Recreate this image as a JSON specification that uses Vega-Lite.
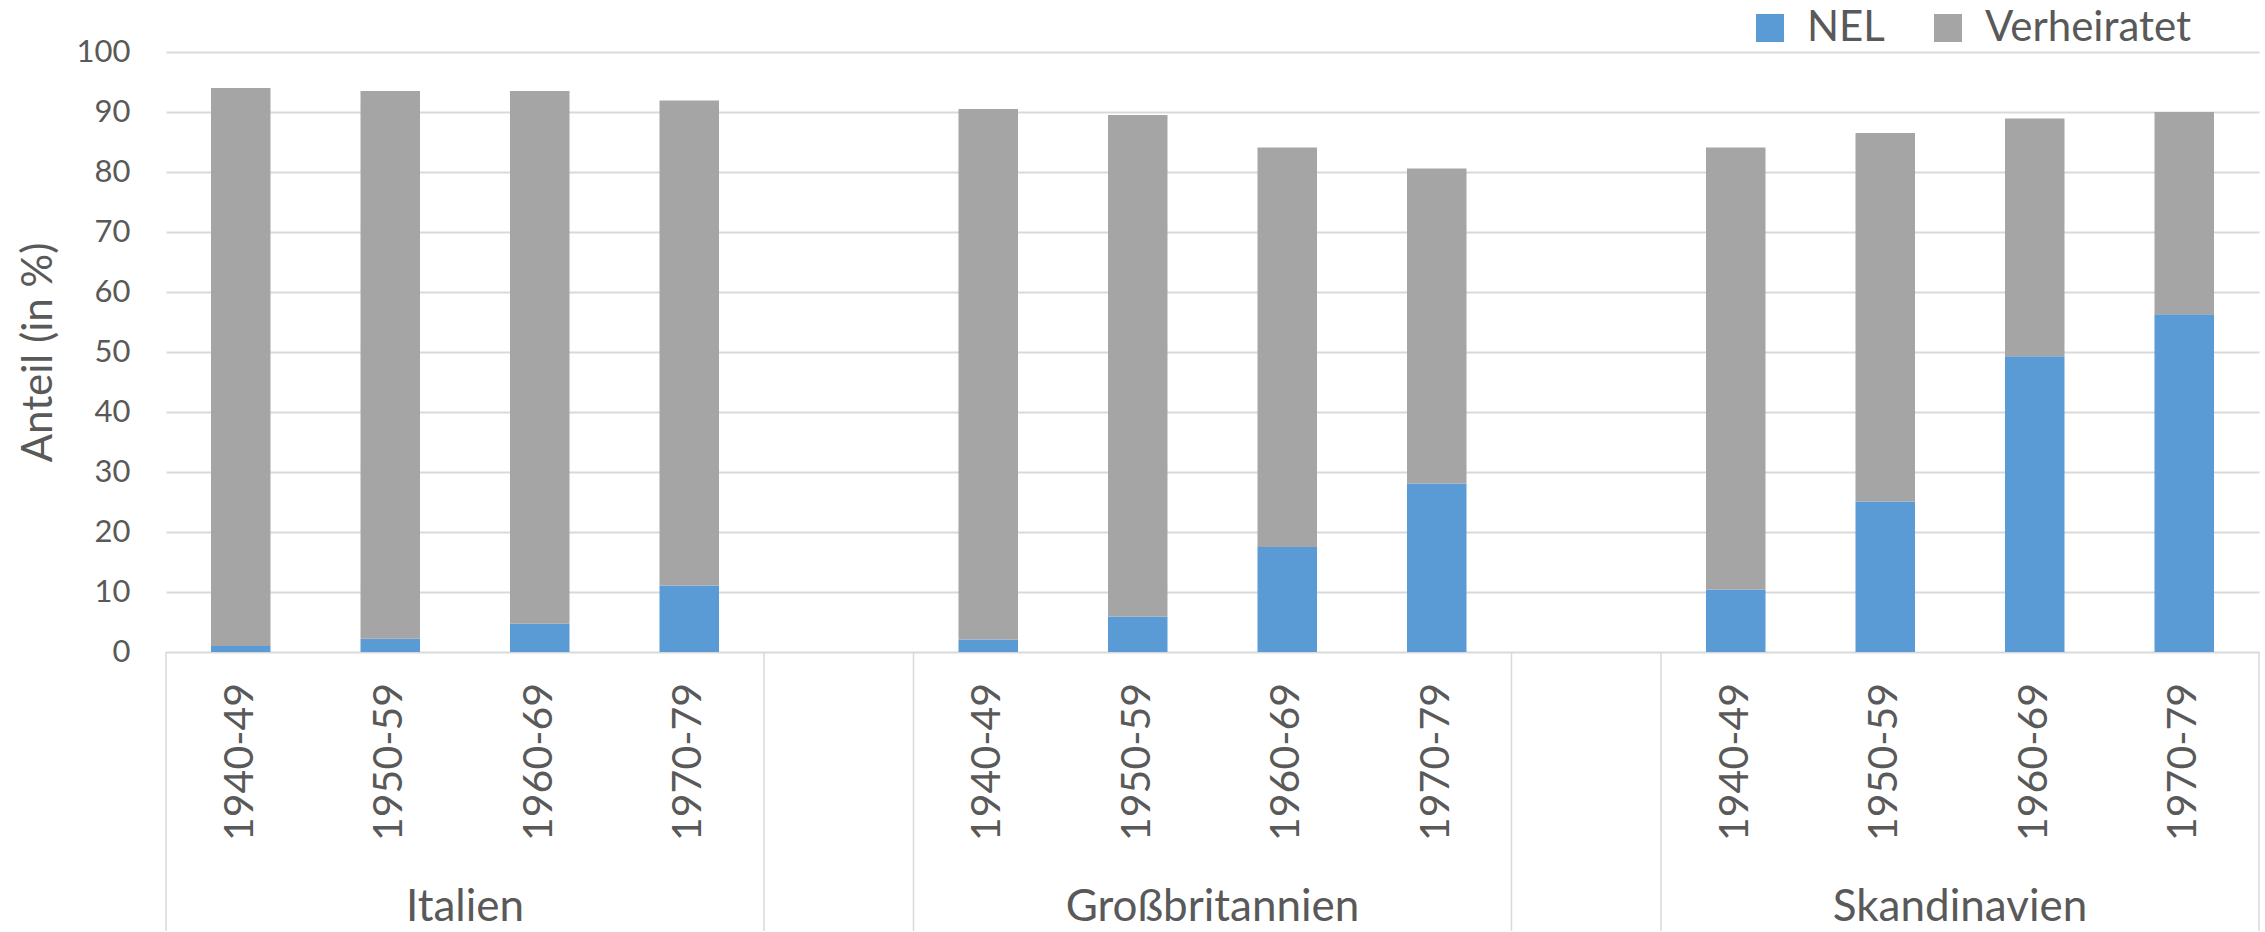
{
  "$schema": "https://vega.github.io/schema/vega-lite/v6.json",
  "background": "white",
  "padding": {"left": 17, "top": 7, "right": 0, "bottom": 0},
  "spacing": 0,
  "bounds": "flush",
  "datasets": {
    "balken": [
      {"kategorie": "Italien 1940-49", "gruppe": "Italien", "dekade": "1940-49", "status": "NEL", "anteil": 1.0},
      {"kategorie": "Italien 1940-49", "gruppe": "Italien", "dekade": "1940-49", "status": "Verheiratet", "anteil": 93.0},
      {"kategorie": "Italien 1950-59", "gruppe": "Italien", "dekade": "1950-59", "status": "NEL", "anteil": 2.2},
      {"kategorie": "Italien 1950-59", "gruppe": "Italien", "dekade": "1950-59", "status": "Verheiratet", "anteil": 91.3},
      {"kategorie": "Italien 1960-69", "gruppe": "Italien", "dekade": "1960-69", "status": "NEL", "anteil": 4.7},
      {"kategorie": "Italien 1960-69", "gruppe": "Italien", "dekade": "1960-69", "status": "Verheiratet", "anteil": 88.8},
      {"kategorie": "Italien 1970-79", "gruppe": "Italien", "dekade": "1970-79", "status": "NEL", "anteil": 11.1},
      {"kategorie": "Italien 1970-79", "gruppe": "Italien", "dekade": "1970-79", "status": "Verheiratet", "anteil": 80.8},
      {"kategorie": "Großbritannien 1940-49", "gruppe": "Großbritannien", "dekade": "1940-49", "status": "NEL", "anteil": 2.1},
      {"kategorie": "Großbritannien 1940-49", "gruppe": "Großbritannien", "dekade": "1940-49", "status": "Verheiratet", "anteil": 88.4},
      {"kategorie": "Großbritannien 1950-59", "gruppe": "Großbritannien", "dekade": "1950-59", "status": "NEL", "anteil": 5.9},
      {"kategorie": "Großbritannien 1950-59", "gruppe": "Großbritannien", "dekade": "1950-59", "status": "Verheiratet", "anteil": 83.6},
      {"kategorie": "Großbritannien 1960-69", "gruppe": "Großbritannien", "dekade": "1960-69", "status": "NEL", "anteil": 17.5},
      {"kategorie": "Großbritannien 1960-69", "gruppe": "Großbritannien", "dekade": "1960-69", "status": "Verheiratet", "anteil": 66.6},
      {"kategorie": "Großbritannien 1970-79", "gruppe": "Großbritannien", "dekade": "1970-79", "status": "NEL", "anteil": 28.1},
      {"kategorie": "Großbritannien 1970-79", "gruppe": "Großbritannien", "dekade": "1970-79", "status": "Verheiratet", "anteil": 52.5},
      {"kategorie": "Skandinavien 1940-49", "gruppe": "Skandinavien", "dekade": "1940-49", "status": "NEL", "anteil": 10.4},
      {"kategorie": "Skandinavien 1940-49", "gruppe": "Skandinavien", "dekade": "1940-49", "status": "Verheiratet", "anteil": 73.7},
      {"kategorie": "Skandinavien 1950-59", "gruppe": "Skandinavien", "dekade": "1950-59", "status": "NEL", "anteil": 25.1},
      {"kategorie": "Skandinavien 1950-59", "gruppe": "Skandinavien", "dekade": "1950-59", "status": "Verheiratet", "anteil": 61.4},
      {"kategorie": "Skandinavien 1960-69", "gruppe": "Skandinavien", "dekade": "1960-69", "status": "NEL", "anteil": 49.3},
      {"kategorie": "Skandinavien 1960-69", "gruppe": "Skandinavien", "dekade": "1960-69", "status": "Verheiratet", "anteil": 39.6},
      {"kategorie": "Skandinavien 1970-79", "gruppe": "Skandinavien", "dekade": "1970-79", "status": "NEL", "anteil": 56.3},
      {"kategorie": "Skandinavien 1970-79", "gruppe": "Skandinavien", "dekade": "1970-79", "status": "Verheiratet", "anteil": 33.7}
    ],
    "kategorien": [
      {"kategorie": "Italien 1940-49", "gruppe": "Italien", "dekade": "1940-49"},
      {"kategorie": "Italien 1950-59", "gruppe": "Italien", "dekade": "1950-59"},
      {"kategorie": "Italien 1960-69", "gruppe": "Italien", "dekade": "1960-69"},
      {"kategorie": "Italien 1970-79", "gruppe": "Italien", "dekade": "1970-79"},
      {"kategorie": "Lücke 1", "gruppe": "", "dekade": ""},
      {"kategorie": "Großbritannien 1940-49", "gruppe": "Großbritannien", "dekade": "1940-49"},
      {"kategorie": "Großbritannien 1950-59", "gruppe": "Großbritannien", "dekade": "1950-59"},
      {"kategorie": "Großbritannien 1960-69", "gruppe": "Großbritannien", "dekade": "1960-69"},
      {"kategorie": "Großbritannien 1970-79", "gruppe": "Großbritannien", "dekade": "1970-79"},
      {"kategorie": "Lücke 2", "gruppe": "", "dekade": ""},
      {"kategorie": "Skandinavien 1940-49", "gruppe": "Skandinavien", "dekade": "1940-49"},
      {"kategorie": "Skandinavien 1950-59", "gruppe": "Skandinavien", "dekade": "1950-59"},
      {"kategorie": "Skandinavien 1960-69", "gruppe": "Skandinavien", "dekade": "1960-69"},
      {"kategorie": "Skandinavien 1970-79", "gruppe": "Skandinavien", "dekade": "1970-79"}
    ]
  },
  "vconcat": [
    {
      "width": 2093,
      "height": 600,
      "data": {"name": "balken"},
      "mark": {"type": "bar", "width": {"band": 0.398}},
      "encoding": {
        "x": {
          "field": "kategorie", "type": "nominal",
          "scale": {"domain": ["Italien 1940-49", "Italien 1950-59", "Italien 1960-69", "Italien 1970-79", "Lücke 1", "Großbritannien 1940-49", "Großbritannien 1950-59", "Großbritannien 1960-69", "Großbritannien 1970-79", "Lücke 2", "Skandinavien 1940-49", "Skandinavien 1950-59", "Skandinavien 1960-69", "Skandinavien 1970-79"], "paddingInner": 0, "paddingOuter": 0},
          "axis": null
        },
        "y": {
          "field": "anteil", "type": "quantitative", "stack": "zero",
          "scale": {"domain": [0, 100], "nice": false},
          "axis": {
            "values": [0, 10, 20, 30, 40, 50, 60, 70, 80, 90, 100],
            "title": "Anteil (in %)",
            "titleFontSize": 42, "titleFont": "Lato", "titleFontWeight": "normal", "titleColor": "#595959", "titlePadding": 16,
            "labelFontSize": 31, "labelFont": "Lato", "labelColor": "#595959", "labelPadding": 36,
            "domain": false, "ticks": false,
            "grid": true, "gridColor": "#D9D9D9", "gridWidth": 2
          }
        },
        "color": {
          "field": "status", "type": "nominal",
          "scale": {"domain": ["NEL", "Verheiratet"], "range": ["#5B9BD5", "#A5A5A5"]},
          "legend": {
            "orient": "none", "legendX": 1583, "legendY": -45, "direction": "horizontal",
            "title": null, "symbolType": "square", "symbolSize": 784, "symbolStrokeWidth": 0, "symbolOpacity": 1,
            "labelFontSize": 42, "labelFont": "Lato", "labelColor": "#595959", "labelOffset": 16, "labelLimit": 0,
            "columnPadding": 42, "padding": 0
          }
        },
        "order": {"field": "status", "sort": "ascending"}
      }
    },
    {
      "width": 2093,
      "height": 220,
      "data": {"name": "kategorien"},
      "layer": [
        {
          "transform": [{"filter": "datum.dekade != ''"}],
          "mark": {"type": "text", "angle": 270, "align": "center", "baseline": "middle", "fontSize": 41, "font": "Lato", "color": "#595959"},
          "encoding": {
            "x": {"field": "kategorie", "type": "nominal", "scale": {"domain": ["Italien 1940-49", "Italien 1950-59", "Italien 1960-69", "Italien 1970-79", "Lücke 1", "Großbritannien 1940-49", "Großbritannien 1950-59", "Großbritannien 1960-69", "Großbritannien 1970-79", "Lücke 2", "Skandinavien 1940-49", "Skandinavien 1950-59", "Skandinavien 1960-69", "Skandinavien 1970-79"], "paddingInner": 0, "paddingOuter": 0}, "axis": null},
            "text": {"field": "dekade"}
          }
        },
        {
          "transform": [{"filter": "datum.dekade == '1940-49' || datum.gruppe == ''"}],
          "mark": {"type": "rule", "color": "#D9D9D9", "strokeWidth": 1.5},
          "encoding": {
            "x": {"field": "kategorie", "type": "nominal", "bandPosition": 0, "axis": null}
          }
        },
        {
          "transform": [{"filter": "datum.gruppe == 'Skandinavien' && datum.dekade == '1970-79'"}],
          "mark": {"type": "rule", "color": "#D9D9D9", "strokeWidth": 1.5},
          "encoding": {
            "x": {"field": "kategorie", "type": "nominal", "bandPosition": 1, "axis": null}
          }
        }
      ]
    },
    {
      "width": 2093,
      "height": 59,
      "data": {"name": "kategorien"},
      "layer": [
        {
          "transform": [{"filter": "datum.dekade == '1950-59'"}],
          "mark": {"type": "text", "align": "center", "baseline": "middle", "fontSize": 44, "font": "Lato", "color": "#595959", "dy": 6},
          "encoding": {
            "x": {"field": "kategorie", "type": "nominal", "bandPosition": 1, "scale": {"domain": ["Italien 1940-49", "Italien 1950-59", "Italien 1960-69", "Italien 1970-79", "Lücke 1", "Großbritannien 1940-49", "Großbritannien 1950-59", "Großbritannien 1960-69", "Großbritannien 1970-79", "Lücke 2", "Skandinavien 1940-49", "Skandinavien 1950-59", "Skandinavien 1960-69", "Skandinavien 1970-79"], "paddingInner": 0, "paddingOuter": 0}, "axis": null},
            "text": {"field": "gruppe"}
          }
        },
        {
          "transform": [{"filter": "datum.dekade == '1940-49' || datum.gruppe == ''"}],
          "mark": {"type": "rule", "color": "#D9D9D9", "strokeWidth": 1.5},
          "encoding": {
            "x": {"field": "kategorie", "type": "nominal", "bandPosition": 0, "axis": null}
          }
        },
        {
          "transform": [{"filter": "datum.gruppe == 'Skandinavien' && datum.dekade == '1970-79'"}],
          "mark": {"type": "rule", "color": "#D9D9D9", "strokeWidth": 1.5},
          "encoding": {
            "x": {"field": "kategorie", "type": "nominal", "bandPosition": 1, "axis": null}
          }
        }
      ]
    }
  ],
  "resolve": {"legend": {"color": "independent"}},
  "config": {
    "font": "Lato",
    "view": {"stroke": null}
  }
}
